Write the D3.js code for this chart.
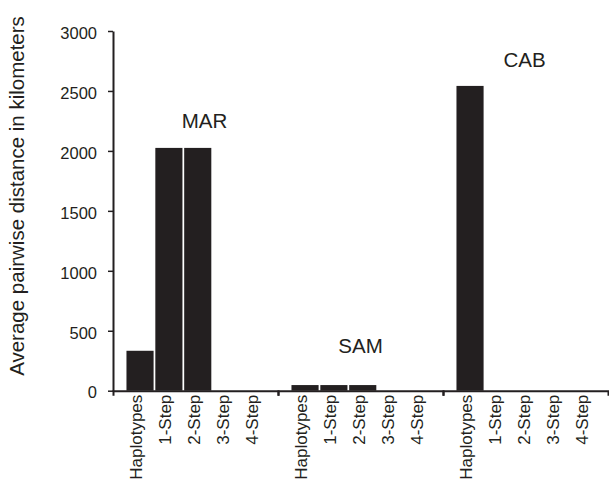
<!DOCTYPE html>
<html>
<head>
<meta charset="utf-8">
<script src="https://cdn.jsdelivr.net/npm/d3@7/dist/d3.min.js"></script>
<style>
  body { margin: 0; background: #fff; }
  text { font-family: "Liberation Sans", Arial, sans-serif; fill: #231f20; }
</style>
</head>
<body>
<div id="chart"></div>
<script>
const groups = ["MAR", "SAM", "CAB"];
const categories = ["Haplotypes", "1-Step", "2-Step", "3-Step", "4-Step"];
const marValues = [333, 2025, 2025, 0, 0];
const samValues = [47, 47, 47, 0, 0];
const cabValues = [2542, 0, 0, 0, 0];
const yTicks = [0, 500, 1000, 1500, 2000, 2500, 3000];
// where the group names sit, in data units (y)
const groupLabelY = [2189, 314, 2697];
const groupLabelShift = [9, 0, -1];

const width = 609, height = 481;
const margin = { top: 31, left: 113, right: 1, bottom: 90.3 };
const iwidth = width - margin.left - margin.right;
const iheight = height - margin.top - margin.bottom;
const ink = "#231f20";

const series = [marValues, samValues, cabValues];

const svg = d3.select("#chart").append("svg")
  .attr("width", width)
  .attr("height", height);

const g1 = svg.append("g").attr("transform", `translate(${margin.left},${margin.top})`);

const y = d3.scaleLinear()
  .domain([0, 3000])
  .range([iheight, 0]);

const xGroup = d3.scaleBand()
  .domain(groups)
  .range([0, iwidth])
  .padding(0);

const x = d3.scaleBand()
  .domain(categories)
  .range([0, xGroup.bandwidth()])
  .paddingInner(0.06)
  .paddingOuter(0.389)
  .align(0.6);

groups.forEach((gname, i) => {
  const gg = g1.append("g").attr("transform", `translate(${xGroup(gname)},0)`);

  gg.selectAll("rect")
    .data(categories.map((c, j) => ({ c: c, v: series[i][j] })))
    .enter().append("rect")
    .style("fill", ink)
    .attr("x", d => x(d.c))
    .attr("y", d => y(d.v))
    .attr("width", x.bandwidth())
    .attr("height", d => iheight - y(d.v));

  const ax = gg.append("g")
    .attr("transform", `translate(0,${iheight})`)
    .call(d3.axisBottom(x).tickSizeInner(0).tickSizeOuter(5).tickPadding(0));
  ax.select(".domain").attr("stroke", ink).attr("stroke-width", 2);
  ax.selectAll("text")
    .attr("transform", "rotate(-90)")
    .attr("text-anchor", "end")
    .attr("x", -4)
    .attr("y", 0)
    .attr("dy", "0.12em")
    .style("font-size", "17px")
    .style("font-family", "'Liberation Sans', Arial, sans-serif")
    .attr("fill", ink);

  g1.append("text")
    .attr("x", xGroup(gname) + xGroup.bandwidth() / 2 + groupLabelShift[i])
    .attr("y", y(groupLabelY[i]))
    .attr("text-anchor", "middle")
    .style("font-size", "20.5px")
    .text(gname);
});

const yAxis = g1.append("g")
  .call(d3.axisLeft(y).tickValues(yTicks).tickFormat(d3.format("d")).tickSize(5).tickSizeOuter(0).tickPadding(11));
yAxis.select(".domain").attr("stroke", ink).attr("stroke-width", 2);
yAxis.selectAll(".tick line").attr("stroke", ink).attr("stroke-width", 1.5);
yAxis.selectAll("text")
  .attr("dy", "0.44em")
  .style("font-size", "16.5px")
  .style("font-family", "'Liberation Sans', Arial, sans-serif")
  .attr("fill", ink);

svg.append("text")
  .attr("transform", "translate(23.5,196) rotate(-90)")
  .attr("text-anchor", "middle")
  .style("font-size", "20.5px")
  .text("Average pairwise distance in kilometers");
</script>
</body>
</html>
